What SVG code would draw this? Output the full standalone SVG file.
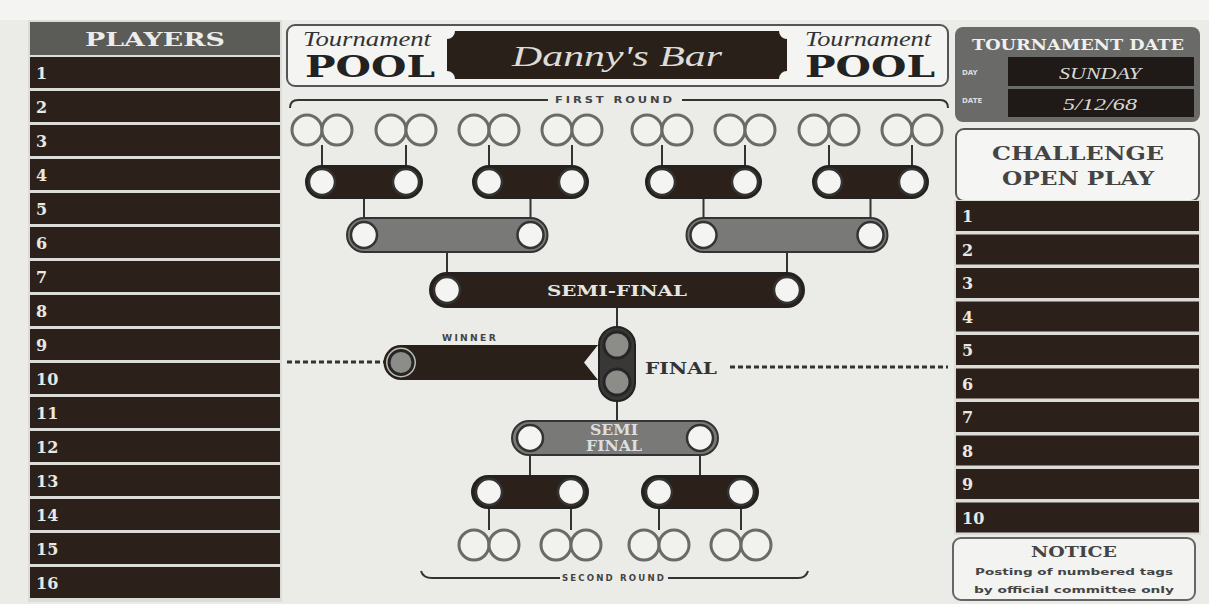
<svg xmlns="http://www.w3.org/2000/svg" width="1209" height="604" viewBox="0 0 1209 604">
<style>
.bold{font-family:"DejaVu Serif","Liberation Serif",serif;font-weight:bold}
.num{font-family:"DejaVu Serif","Liberation Serif",serif;font-weight:bold;font-size:16px;fill:#e8e8e4}
.row{fill:#2b211a}
.small{font-family:"DejaVu Sans","Liberation Sans",sans-serif;font-weight:bold;font-size:8px;fill:#444;letter-spacing:2px}
.script{font-family:"Liberation Serif",serif;font-style:italic}
.pc{fill:#f1f1ee;stroke:#6a6a68;stroke-width:3}
.wc{fill:#f4f4f2;stroke:#333;stroke-width:2.5}
.gc{fill:#8c8c88;stroke:#262626;stroke-width:3}
.dk{fill:#2b211a;stroke:#222;stroke-width:2}
.gr{fill:#797977;stroke:#333;stroke-width:2}
.ln{stroke:#333;stroke-width:2;fill:none}
.dash{stroke:#333;stroke-width:3;stroke-dasharray:5 3;fill:none}
</style>
<rect width="1209" height="604" fill="#ebebe8"/>
<rect width="1209" height="20" fill="#f4f4f3"/>

<g id="players">
<rect x="28" y="20" width="254" height="582" fill="#dcdcd8"/>
<rect x="30" y="22" width="250" height="33" fill="#5b5b58"/>
<text x="155" y="46" class="bold" font-size="18" fill="#ececea" text-anchor="middle" textLength="140" lengthAdjust="spacingAndGlyphs">PLAYERS</text>
<rect class="row" x="30" y="57" width="250" height="31"/><text class="num" x="36" y="79">1</text>
<rect class="row" x="30" y="91" width="250" height="31"/><text class="num" x="36" y="113">2</text>
<rect class="row" x="30" y="125" width="250" height="31"/><text class="num" x="36" y="147">3</text>
<rect class="row" x="30" y="159" width="250" height="31"/><text class="num" x="36" y="181">4</text>
<rect class="row" x="30" y="193" width="250" height="31"/><text class="num" x="36" y="215">5</text>
<rect class="row" x="30" y="227" width="250" height="31"/><text class="num" x="36" y="249">6</text>
<rect class="row" x="30" y="261" width="250" height="31"/><text class="num" x="36" y="283">7</text>
<rect class="row" x="30" y="295" width="250" height="31"/><text class="num" x="36" y="317">8</text>
<rect class="row" x="30" y="329" width="250" height="31"/><text class="num" x="36" y="351">9</text>
<rect class="row" x="30" y="363" width="250" height="31"/><text class="num" x="36" y="385">10</text>
<rect class="row" x="30" y="397" width="250" height="31"/><text class="num" x="36" y="419">11</text>
<rect class="row" x="30" y="431" width="250" height="31"/><text class="num" x="36" y="453">12</text>
<rect class="row" x="30" y="465" width="250" height="31"/><text class="num" x="36" y="487">13</text>
<rect class="row" x="30" y="499" width="250" height="31"/><text class="num" x="36" y="521">14</text>
<rect class="row" x="30" y="533" width="250" height="31"/><text class="num" x="36" y="555">15</text>
<rect class="row" x="30" y="567" width="250" height="31"/><text class="num" x="36" y="589">16</text>
</g>

<g id="title">
<rect x="287" y="25" width="661" height="61" rx="8" fill="#f4f4f2" stroke="#555" stroke-width="2"/>
<text x="367" y="46" class="script" font-size="20" fill="#333" text-anchor="middle" textLength="128" lengthAdjust="spacingAndGlyphs">Tournament</text>
<text x="370" y="77" class="bold" font-size="30" fill="#222" text-anchor="middle" textLength="130" lengthAdjust="spacingAndGlyphs">POOL</text>
<path d="M455 31H779A8 8 0 0 0 787 39V71A8 8 0 0 0 779 79H455A8 8 0 0 0 447 71V39A8 8 0 0 0 455 31Z" fill="#2a201a"/>
<text x="617" y="66" class="script" font-size="30" fill="#dcdcd8" text-anchor="middle" textLength="210" lengthAdjust="spacingAndGlyphs">Danny's Bar</text>
<text x="868" y="46" class="script" font-size="20" fill="#333" text-anchor="middle" textLength="126" lengthAdjust="spacingAndGlyphs">Tournament</text>
<text x="870" y="77" class="bold" font-size="30" fill="#222" text-anchor="middle" textLength="130" lengthAdjust="spacingAndGlyphs">POOL</text>
</g>

<g id="round-labels">
<path class="ln" d="M290 108Q290 100 298 100H548M682 100H940Q948 100 948 108"/>
<text x="615" y="103" class="small" text-anchor="middle" textLength="120" lengthAdjust="spacingAndGlyphs">FIRST ROUND</text>
<path class="ln" d="M421 571Q423 578 432 578H560M668 578H798Q806 578 808 571"/>
<text x="614" y="581" class="small" text-anchor="middle" textLength="104" lengthAdjust="spacingAndGlyphs">SECOND ROUND</text>
</g>

<g id="connectors">
<path class="ln" d="M322 145V169M406 145V169M489 145V169M572 145V169M662 145V169M745 145V169M829 145V169M912 145V169"/>
<path class="ln" d="M364 198V222M530.5 198V222M703.5 198V222M870.5 198V222"/>
<path class="ln" d="M447 252V277M787 252V277"/>
<path class="ln" d="M617 307V328M617 400V421"/>
<path class="ln" d="M530 455V476M700 455V476"/>
<path class="ln" d="M489 508V530M571 508V530M659 508V530M741 508V530"/>
<path class="dash" d="M287 362H384"/>
<path class="dash" d="M730 367H948"/>
</g>

<g id="first-round">
<circle class="pc" cx="307" cy="130" r="15"/><circle class="pc" cx="337" cy="130" r="15"/>
<circle class="pc" cx="391" cy="130" r="15"/><circle class="pc" cx="421" cy="130" r="15"/>
<circle class="pc" cx="474" cy="130" r="15"/><circle class="pc" cx="504" cy="130" r="15"/>
<circle class="pc" cx="557" cy="130" r="15"/><circle class="pc" cx="587" cy="130" r="15"/>
<circle class="pc" cx="647" cy="130" r="15"/><circle class="pc" cx="677" cy="130" r="15"/>
<circle class="pc" cx="730" cy="130" r="15"/><circle class="pc" cx="760" cy="130" r="15"/>
<circle class="pc" cx="814" cy="130" r="15"/><circle class="pc" cx="844" cy="130" r="15"/>
<circle class="pc" cx="897" cy="130" r="15"/><circle class="pc" cx="927" cy="130" r="15"/>
</g>

<g id="quarter-top">
<rect class="dk" x="306" y="166" width="116" height="32" rx="16"/><circle class="wc" cx="322" cy="182" r="13"/><circle class="wc" cx="406" cy="182" r="13"/>
<rect class="dk" x="473" y="166" width="115" height="32" rx="16"/><circle class="wc" cx="489" cy="182" r="13"/><circle class="wc" cx="572" cy="182" r="13"/>
<rect class="dk" x="646" y="166" width="115" height="32" rx="16"/><circle class="wc" cx="662" cy="182" r="13"/><circle class="wc" cx="745" cy="182" r="13"/>
<rect class="dk" x="813" y="166" width="115" height="32" rx="16"/><circle class="wc" cx="829" cy="182" r="13"/><circle class="wc" cx="912" cy="182" r="13"/>
</g>

<g id="third-top">
<rect class="gr" x="347" y="218" width="200.5" height="34" rx="17"/><circle class="wc" cx="364" cy="235" r="13"/><circle class="wc" cx="530.5" cy="235" r="13"/>
<rect class="gr" x="686.5" y="218" width="201" height="34" rx="17"/><circle class="wc" cx="703.5" cy="235" r="13"/><circle class="wc" cx="870.5" cy="235" r="13"/>
</g>

<g id="semi-final-top">
<rect class="dk" x="430" y="273" width="374" height="34" rx="17"/>
<circle class="wc" cx="447" cy="290" r="13"/><circle class="wc" cx="787" cy="290" r="13"/>
<text x="617" y="296" class="bold" font-size="15" fill="#e6e6e2" text-anchor="middle" textLength="140" lengthAdjust="spacingAndGlyphs">SEMI-FINAL</text>
</g>

<g id="winner">
<text x="470" y="341" class="small" text-anchor="middle" textLength="56" lengthAdjust="spacingAndGlyphs">WINNER</text>
<path d="M401 345H598L584 362.5L598 380H401A17.5 17.5 0 0 1 401 345Z" fill="#2a201a"/>
<circle cx="401" cy="362.5" r="15" fill="#bdbdb8"/>
<circle class="gc" cx="401" cy="362.5" r="12"/>
</g>

<g id="final">
<rect x="599" y="327" width="36" height="74" rx="18" fill="#3a3836" stroke="#222" stroke-width="2"/>
<circle class="gc" cx="617" cy="345" r="13"/>
<circle class="gc" cx="617" cy="382" r="13"/>
<text x="645" y="374" class="bold" font-size="16" fill="#333" textLength="72" lengthAdjust="spacingAndGlyphs">FINAL</text>
</g>

<g id="semi-final-bottom">
<rect class="gr" x="512" y="421" width="206" height="34" rx="17"/>
<circle class="wc" cx="530" cy="438" r="13"/><circle class="wc" cx="700" cy="438" r="13"/>
<text x="614" y="435" class="bold" font-size="14" fill="#dedede" text-anchor="middle" textLength="48" lengthAdjust="spacingAndGlyphs">SEMI</text>
<text x="614" y="451" class="bold" font-size="14" fill="#dedede" text-anchor="middle" textLength="56" lengthAdjust="spacingAndGlyphs">FINAL</text>
</g>

<g id="quarter-bottom">
<rect class="dk" x="472" y="476" width="116" height="32" rx="16"/><circle class="wc" cx="489" cy="492" r="13"/><circle class="wc" cx="571" cy="492" r="13"/>
<rect class="dk" x="642" y="476" width="116" height="32" rx="16"/><circle class="wc" cx="659" cy="492" r="13"/><circle class="wc" cx="741" cy="492" r="13"/>
</g>

<g id="second-round">
<circle class="pc" cx="474" cy="545" r="15"/><circle class="pc" cx="504" cy="545" r="15"/>
<circle class="pc" cx="556" cy="545" r="15"/><circle class="pc" cx="586" cy="545" r="15"/>
<circle class="pc" cx="644" cy="545" r="15"/><circle class="pc" cx="674" cy="545" r="15"/>
<circle class="pc" cx="726" cy="545" r="15"/><circle class="pc" cx="756" cy="545" r="15"/>
</g>

<g id="tournament-date">
<rect x="955" y="27" width="245" height="95" rx="8" fill="#6a6a68"/>
<text x="1078" y="50" class="bold" font-size="14" fill="#f0f0ee" text-anchor="middle" textLength="212" lengthAdjust="spacingAndGlyphs">TOURNAMENT DATE</text>
<text x="962" y="75" font-family="DejaVu Sans,sans-serif" font-weight="bold" font-size="7" fill="#ddd">DAY</text>
<text x="962" y="103" font-family="DejaVu Sans,sans-serif" font-weight="bold" font-size="7" fill="#ddd">DATE</text>
<rect x="1008" y="57" width="186" height="29" fill="#1f1a17"/>
<rect x="1008" y="89" width="186" height="28" fill="#1f1a17"/>
<text x="1100" y="79" class="script" font-size="17" fill="#d8d8d4" text-anchor="middle" textLength="82" lengthAdjust="spacingAndGlyphs">SUNDAY</text>
<text x="1100" y="110" class="script" font-size="17" fill="#d8d8d4" text-anchor="middle" textLength="74" lengthAdjust="spacingAndGlyphs">5/12/68</text>
</g>

<g id="challenge">
<rect x="956" y="129" width="243" height="72" rx="8" fill="#f5f5f3" stroke="#555" stroke-width="2"/>
<text x="1078" y="160" class="bold" font-size="19" fill="#444" text-anchor="middle" textLength="172" lengthAdjust="spacingAndGlyphs">CHALLENGE</text>
<text x="1078" y="185" class="bold" font-size="19" fill="#444" text-anchor="middle" textLength="152" lengthAdjust="spacingAndGlyphs">OPEN PLAY</text>
<rect x="954" y="200" width="247" height="335" fill="#dcdcd8"/>
<rect class="row" x="956" y="201" width="243" height="30"/><text class="num" x="962" y="222">1</text>
<rect class="row" x="956" y="234.5" width="243" height="30"/><text class="num" x="962" y="255.5">2</text>
<rect class="row" x="956" y="268" width="243" height="30"/><text class="num" x="962" y="289">3</text>
<rect class="row" x="956" y="301.5" width="243" height="30"/><text class="num" x="962" y="322.5">4</text>
<rect class="row" x="956" y="335" width="243" height="30"/><text class="num" x="962" y="356">5</text>
<rect class="row" x="956" y="368.5" width="243" height="30"/><text class="num" x="962" y="389.5">6</text>
<rect class="row" x="956" y="402" width="243" height="30"/><text class="num" x="962" y="423">7</text>
<rect class="row" x="956" y="435.5" width="243" height="30"/><text class="num" x="962" y="456.5">8</text>
<rect class="row" x="956" y="469" width="243" height="30"/><text class="num" x="962" y="490">9</text>
<rect class="row" x="956" y="502.5" width="243" height="30"/><text class="num" x="962" y="523.5">10</text>
</g>

<g id="notice">
<rect x="953" y="538" width="242" height="62" rx="8" fill="#f3f3f1" stroke="#666" stroke-width="2"/>
<text x="1074" y="557" class="bold" font-size="14" fill="#444" text-anchor="middle" textLength="86" lengthAdjust="spacingAndGlyphs">NOTICE</text>
<text x="1074" y="575" font-family="DejaVu Sans,sans-serif" font-weight="bold" font-size="8" fill="#444" text-anchor="middle" textLength="198" lengthAdjust="spacingAndGlyphs">Posting of numbered tags</text>
<text x="1074" y="593" font-family="DejaVu Sans,sans-serif" font-weight="bold" font-size="8" fill="#444" text-anchor="middle" textLength="200" lengthAdjust="spacingAndGlyphs">by official committee only</text>
</g>
</svg>
